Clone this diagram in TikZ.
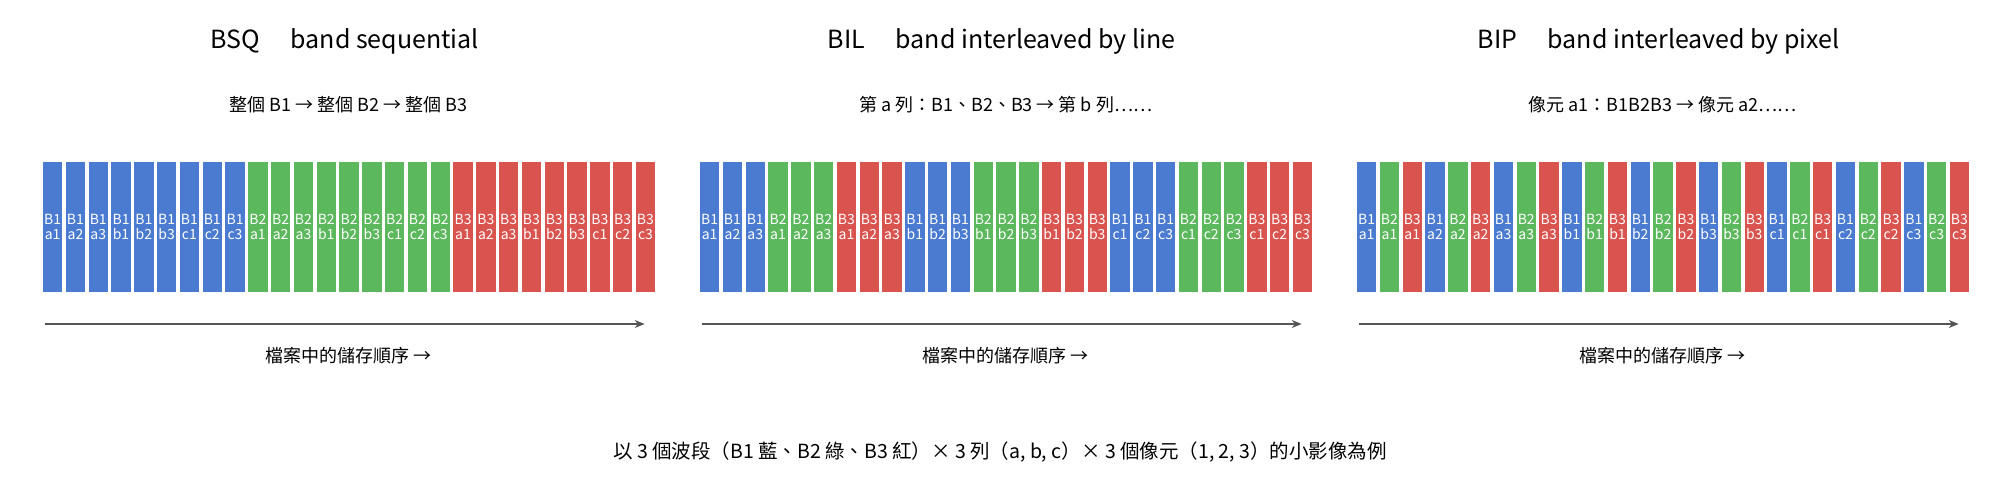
\documentclass[tikz,border=0pt]{standalone}
\usepackage{fontspec}
\setmainfont{Noto Sans CJK TC}
\usetikzlibrary{arrows.meta}
\definecolor{cb}{HTML}{4A7BD0}
\definecolor{cg}{HTML}{5CB85C}
\definecolor{cr}{HTML}{D9534F}
\definecolor{ca}{HTML}{555555}
\begin{document}
\begin{tikzpicture}[x=1pt,y=-1pt,
 bar/.style={minimum width=19.5pt,minimum height=130pt,inner sep=0pt,text=white,font=\fontsize{14}{15.5}\selectfont,align=center},
 title/.style={font=\fontsize{25}{28}\selectfont},
 sub/.style={font=\fontsize{18}{21}\selectfont},
 axis/.style={draw=ca,line width=1.6pt,-{Stealth[length=10pt,width=8pt]}}]
\useasboundingbox (0,0) rectangle (2000,480);
\def\pitch{22.8}
\foreach \p/\x/\ttl/\sb in {0/42.7/{BSQ\quad\ band sequential}/{整個 B1 → 整個 B2 → 整個 B3},
  1/699.7/{BIL\quad\ band interleaved by line}/{第 a 列：B1、B2、B3 → 第 b 列……},
  2/1356.7/{BIP\quad\ band interleaved by pixel}/{像元 a1：B1B2B3 → 像元 a2……}}{
  \node[title] (t\p) at (\x+302,41) {\ttl};
  \node[sub] (s\p) at (\x+306,105) {\sb};
  \foreach \i in {0,...,26}{
    \pgfmathtruncatemacro\A{\i/9}\pgfmathtruncatemacro\B{mod(\i,9)/3}\pgfmathtruncatemacro\C{mod(\i,3)}
    \ifcase\p
      \pgfmathtruncatemacro\band{\A+1}\pgfmathtruncatemacro\row{\B}\pgfmathtruncatemacro\pix{\C+1}
    \or
      \pgfmathtruncatemacro\band{\B+1}\pgfmathtruncatemacro\row{\A}\pgfmathtruncatemacro\pix{\C+1}
    \else
      \pgfmathtruncatemacro\band{\C+1}\pgfmathtruncatemacro\row{\A}\pgfmathtruncatemacro\pix{\B+1}
    \fi
    \edef\rl{\ifcase\row a\or b\or c\fi}
    \edef\col{\ifcase\band\or cb\or cg\or cr\fi}
    \node[bar,fill=\col,anchor=north west] (b\p-\i) at (\x+\i*\pitch,161.7) {B\band\\\rl\pix};
  }
  \coordinate (l\p) at (\x+2,324);
  \coordinate (r\p) at (\x+602,324);
  \draw[axis] (l\p) -- (r\p);
  \node[sub] (f\p) at (\x+306,356) {檔案中的儲存順序 →};
}
\node[sub,font=\fontsize{19.5}{22}\selectfont] (cap) at (1000,452) {以 3 個波段（B1 藍、B2 綠、B3 紅）× 3 列（a, b, c）× 3 個像元（1, 2, 3）的小影像為例};
\end{tikzpicture}
\end{document}
